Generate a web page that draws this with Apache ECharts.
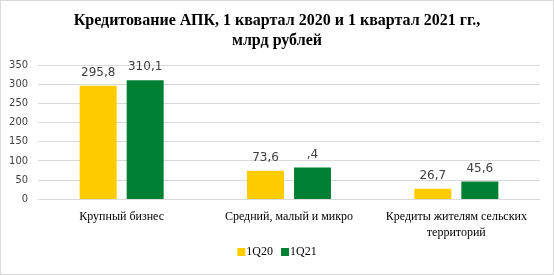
<!DOCTYPE html>
<html><head><meta charset="utf-8">
<script src="https://cdn.jsdelivr.net/npm/echarts@6/dist/echarts.min.js"></script>
<style>html,body{margin:0;padding:0;background:#fff}#c{width:554px;height:275px;box-sizing:border-box;border:1px solid #d9d9d9}</style>
</head><body><div id="c"></div>
<script>
const categories = ['Крупный бизнес', 'Средний, малый и микро', 'Кредиты жителям сельских\nтерриторий'];
const s1Name = '1Q20';
const s2Name = '1Q21';
const s1Values = [295.8, 73.6, 26.7];
const s2Values = [310.1, 82.4, 45.6];
const s1Labels = ['295,8', '73,6', '26,7'];
const s2Labels = ['310,1', ',4', '45,6'];
const yTicks = [0, 50, 100, 150, 200, 250, 300, 350];

const chart = echarts.init(document.getElementById('c'));
const lblStyle = {show: true, position: 'top', fontFamily: 'DejaVu Sans', fontSize: 12, color: '#404040', distance: 7};
chart.setOption({
  animation: false,
  title: {
    text: 'Кредитование АПК, 1 квартал 2020 и 1 квартал 2021 гг.,\nмлрд рублей',
    left: 'center', top: 5,
    textStyle: {fontFamily: 'Liberation Serif', fontWeight: 'bold', fontSize: 16, color: '#000', lineHeight: 20}
  },
  legend: {
    bottom: 11, left: 'center', itemWidth: 8, itemHeight: 8, itemGap: 8,
    icon: 'rect',
    textStyle: {fontFamily: 'Liberation Serif', fontSize: 12, color: '#000', padding: [0, 0, 0, -4]},
    data: [s1Name, s2Name]
  },
  grid: {left: 37, right: 13, top: 64, bottom: 75, containLabel: false},
  xAxis: {
    type: 'category', data: categories,
    axisLine: {lineStyle: {color: '#d9d9d9'}},
    axisTick: {show: false},
    axisLabel: {fontFamily: 'Liberation Serif', fontSize: 12, color: '#000', margin: 10, lineHeight: 16, interval: 0}
  },
  yAxis: {
    type: 'value', min: 0, max: 350, interval: 50,
    axisLine: {show: false}, axisTick: {show: false},
    splitLine: {lineStyle: {color: '#d9d9d9'}},
    axisLabel: {fontFamily: 'DejaVu Sans Condensed', fontSize: 11, color: '#404040', margin: 10,
      formatter: v => yTicks.includes(v) ? String(v) : ''}
  },
  series: [
    {name: s1Name, type: 'bar', data: s1Values, barWidth: 37, barGap: '27%', itemStyle: {color: '#FFCC00'},
     label: Object.assign({}, lblStyle, {formatter: p => s1Labels[p.dataIndex]})},
    {name: s2Name, type: 'bar', data: s2Values, barWidth: 37, itemStyle: {color: '#008033'},
     label: Object.assign({}, lblStyle, {formatter: p => s2Labels[p.dataIndex]})}
  ]
});
</script></body></html>
